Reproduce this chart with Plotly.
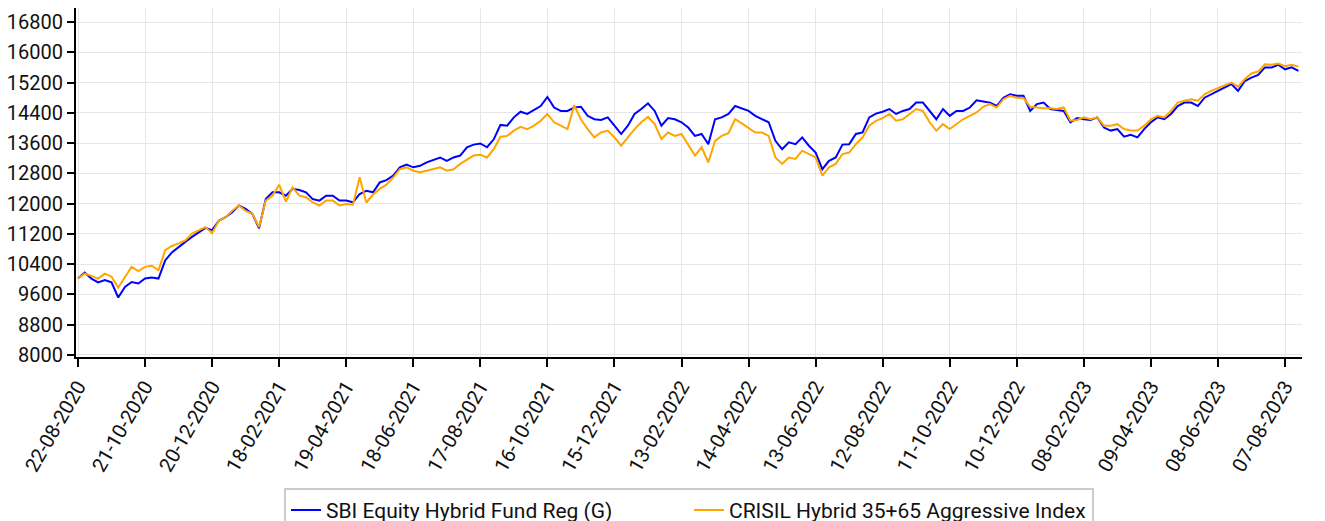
import pandas as pd
import plotly.graph_objects as go

start_date = "2020-08-22"
step_days = 6

sbi_fund = [
    10020, 10180, 10020, 9920, 9980, 9920, 9520, 9800, 9930, 9890,
    10020, 10050, 10020, 10500, 10710, 10860, 10990, 11120, 11250, 11360,
    11300, 11550, 11640, 11770, 11950, 11860, 11730, 11350, 12120, 12300,
    12300, 12210, 12390, 12360, 12300, 12120, 12080, 12210, 12210, 12080,
    12080, 12035, 12255, 12340, 12300, 12560, 12620, 12740, 12960, 13030,
    12960, 13000, 13090, 13150, 13220, 13130, 13220, 13270, 13490, 13560,
    13590, 13490, 13700, 14080, 14060, 14280, 14430, 14370, 14470, 14580,
    14820, 14540, 14450, 14450, 14540, 14560, 14320, 14230, 14210, 14280,
    14060, 13840, 14060, 14370, 14500, 14650, 14450, 14060, 14260, 14230,
    14150, 14010, 13790, 13840, 13570, 14230, 14280, 14370, 14580, 14520,
    14450, 14320, 14230, 14150, 13660, 13440, 13620, 13570, 13750, 13530,
    13350, 12910, 13130, 13220, 13560, 13570, 13840, 13880, 14280, 14380,
    14430, 14500, 14370, 14450, 14500, 14670, 14670, 14450, 14230, 14500,
    14320, 14450, 14450, 14540, 14730, 14700, 14670, 14580, 14800, 14890,
    14850, 14850, 14450, 14630, 14670, 14500, 14470, 14450, 14150, 14260,
    14230, 14210, 14280, 14010, 13930, 13970, 13770, 13820, 13750, 13970,
    14150, 14280, 14230, 14370, 14580, 14670, 14670, 14580, 14800, 14890,
    14980, 15050, 15160, 14980, 15240, 15330, 15400, 15600, 15600, 15670,
    15550, 15600, 15510,
]

crisil_index = [
    10020, 10150, 10090, 10020, 10150, 10070, 9780, 10070, 10330, 10220,
    10330, 10360, 10240, 10770, 10880, 10950, 11030, 11210, 11300, 11380,
    11220, 11550, 11640, 11810, 11950, 11810, 11730, 11380, 12080, 12210,
    12500, 12050, 12430, 12210, 12170, 12030, 11950, 12080, 12080, 11950,
    11990, 11970, 12700, 12030, 12240, 12390, 12500, 12690, 12910, 12960,
    12870, 12830, 12870, 12910, 12960, 12870, 12910, 13050, 13150, 13270,
    13290, 13220, 13440, 13770, 13790, 13930, 14030, 13970, 14060, 14190,
    14370, 14150, 14060, 13970, 14600, 14230, 13970, 13750, 13880, 13930,
    13750, 13530, 13750, 13970, 14150, 14290, 14100, 13710, 13880, 13790,
    13840, 13570, 13270, 13490, 13090, 13660, 13790, 13860, 14230, 14120,
    14010, 13880, 13880, 13790, 13220, 13050, 13220, 13180, 13400, 13310,
    13220, 12740, 12960, 13050, 13310, 13350, 13570, 13750, 14060, 14190,
    14260, 14370, 14190, 14230, 14370, 14500, 14450, 14150, 13930, 14100,
    13970, 14100, 14230, 14320, 14410, 14560, 14630, 14540, 14760, 14850,
    14800, 14790, 14560, 14540, 14520, 14520, 14500, 14540, 14190, 14210,
    14280, 14230, 14280, 14060, 14060, 14100, 13970, 13930, 13930, 14060,
    14230, 14320, 14280, 14450, 14670, 14720, 14760, 14720, 14890, 14980,
    15050, 15110, 15200, 15090, 15290, 15440, 15490, 15680, 15670, 15700,
    15630, 15670, 15620,
]

series_names = ["SBI Equity Hybrid Fund Reg (G)", "CRISIL Hybrid 35+65 Aggressive Index"]
series_colors = ["#0000ff", "#ffa500"]

dates = pd.date_range(start_date, periods=len(sbi_fund), freq=f"{step_days}D")
tick_dates = pd.date_range(start_date, periods=19, freq="60D")
tick_labels = [d.strftime("%d-%m-%Y") for d in tick_dates]
y_ticks = list(range(8000, 16801, 800))
y_labels = [str(v) for v in y_ticks]

fig = go.Figure()
for name, vals, col in zip(series_names, [sbi_fund, crisil_index], series_colors):
    fig.add_trace(go.Scatter(x=dates, y=vals, mode="lines", name=name,
                             line=dict(color=col, width=2)))

t0 = pd.Timestamp(start_date)
fig.update_layout(
    width=1325, height=521,
    margin=dict(l=68, r=31, t=0, b=172, autoexpand=False),
    paper_bgcolor="white", plot_bgcolor="white",
    font=dict(family="Roboto", size=20, color="#111"),
    showlegend=True,
    legend=dict(orientation="h", x=0.5, xanchor="center", y=-0.375, yanchor="top",
                bordercolor="#cccccc", borderwidth=2, font=dict(size=21),
                entrywidth=358, entrywidthmode="pixels"),
    xaxis=dict(
        range=[t0 - pd.Timedelta(hours=43), t0 + pd.Timedelta(days=1095.2)],
        tickvals=tick_dates, ticktext=tick_labels, tickangle=-60,
        showgrid=True, gridcolor="#e6e6e6", gridwidth=1,
        showline=True, linecolor="black", linewidth=2,
        ticks="outside", ticklen=8, tickwidth=2, tickcolor="black",
        tickfont=dict(size=20, color="#111"), zeroline=False, automargin=False,
    ),
    yaxis=dict(
        range=[7947, 17170], tickvals=y_ticks, ticktext=y_labels,
        showgrid=True, gridcolor="#e6e6e6", gridwidth=1,
        showline=True, linecolor="black", linewidth=2,
        ticks="outside", ticklen=7, tickwidth=2, tickcolor="black",
        tickfont=dict(size=20, color="#111"), zeroline=False, automargin=False,
    ),
)

fig.write_html("out.html")
